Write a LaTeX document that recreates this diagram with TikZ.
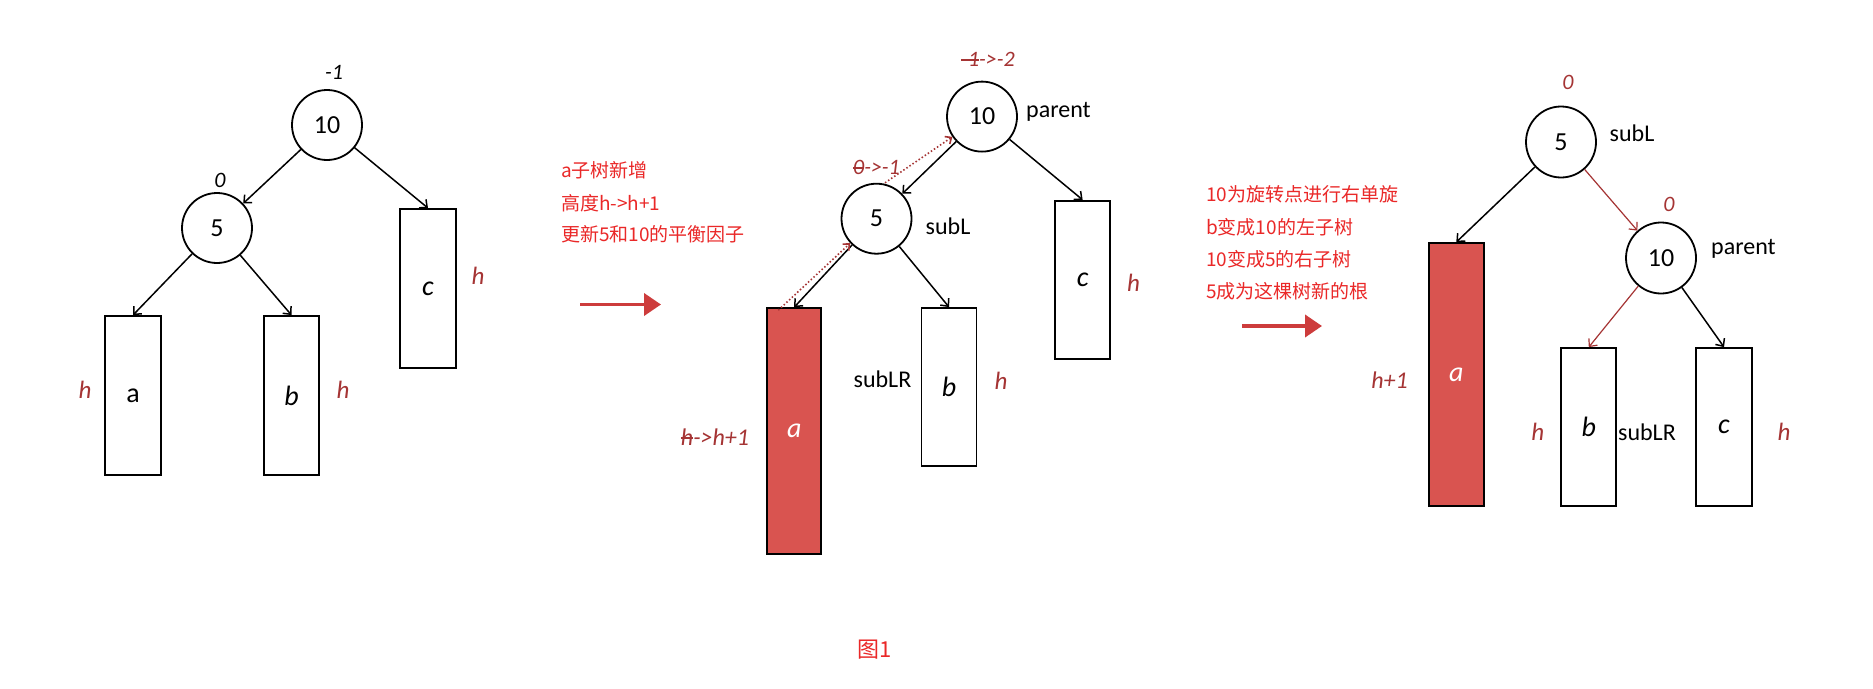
\documentclass[tikz,border=0pt]{standalone}
\usepackage{fontspec}
\setmainfont{Carlito}
\newfontfamily\cjk{Noto Sans CJK SC}
\usetikzlibrary{shapes.geometric,arrows.meta}
\definecolor{lblred}{RGB}{165,52,52}
\definecolor{txtred}{RGB}{234,40,40}
\definecolor{boxred}{RGB}{217,84,80}
\definecolor{arrred}{RGB}{205,60,60}
\newsavebox\strkbox
\newcommand\mystrike[1]{\sbox\strkbox{#1}\rlap{\rule[0.28em]{\wd\strkbox}{0.07em}}\usebox\strkbox}
\begin{document}
\begin{tikzpicture}[x=1pt,y=-1pt,
  tnode/.style={ellipse,draw,line width=1.8pt,inner sep=0pt,minimum width=70pt,minimum height=70pt,font=\fontsize{26}{28}\selectfont},
  subtree/.style={rectangle,draw,line width=1.8pt,inner sep=0pt,font=\fontsize{28}{30}\selectfont\itshape},
  redtree/.style={subtree,fill=boxred,text=white},
  edge/.style={line width=1.5pt,-{Straight Barb[length=6pt,width=11pt]}},
  redge/.style={edge,draw=lblred,line width=1.2pt},
  dotarr/.style={draw=lblred,line width=1.6pt,dash pattern=on 1.5pt off 2.2pt,-{Straight Barb[length=5pt,width=9pt]}},
  hl/.style={text=lblred,font=\fontsize{25}{27}\selectfont\itshape},
  bf/.style={font=\fontsize{22}{24}\selectfont\itshape},
  bfr/.style={bf,text=lblred},
  nm/.style={font=\fontsize{24}{26}\selectfont,anchor=west,inner sep=0pt},
  note/.style={text=txtred,font=\cjk\fontsize{19}{21}\selectfont,anchor=west,inner sep=0pt},
  bigarrow/.style={draw=arrred,line width=3.8pt,-{Triangle[length=17pt,width=22pt]}}]
\fill[white] (0,0) rectangle (1873,688);
\useasboundingbox (0,0) rectangle (1873,688);

% ---------- left panel ----------
\node[tnode] (A10) at (327,125) {10};
\node[tnode] (A5) at (217,228) {5};
\node[bf] (A10bf) at (334,72) {-1};
\node[bf] (A5bf) at (220,180) {0};
\node[subtree,minimum width=56pt,minimum height=159pt,font=\fontsize{28}{30}\selectfont\upshape] (Aa) at (133,395.5) {a};
\node[subtree,minimum width=55pt,minimum height=159pt] (Ab) at (291.5,395.5) {b};
\node[subtree,minimum width=56pt,minimum height=159pt] (Ac) at (428,288.5) {c};
\node[hl] (Aha) at (85,390) {h};
\node[hl] (Ahb) at (343,390) {h};
\node[hl] (Ahc) at (478,276) {h};
\draw[edge] (A10) -- (A5);
\draw[edge] (A10) -- (Ac.north);
\draw[edge] (A5) -- (Aa.north);
\draw[edge] (A5) -- (Ab.north);

% ---------- middle panel ----------
\node[note] (N1) at (561,170) {a子树新增};
\node[note] (N2) at (561,203) {高度h->h+1};
\node[note] (N3) at (561,234.5) {更新5和10的平衡因子};
\coordinate (M0) at (580,304.5);
\coordinate (M1) at (661,304.5);
\draw[bigarrow] (M0) -- (M1);

\node[tnode] (M10) at (982,116.6) {10};
\node[tnode] (M5) at (876.5,218.7) {5};
\node[nm] (Mparent) at (1026,111.4) {parent};
\node[nm] (MsubL) at (925.5,226.4) {subL};
\node[bfr] (M10bf) at (988,59.8) {\mystrike{-1}->-2};
\node[bfr] (M5bf) at (876.5,167.8) {\mystrike{0}->-1};
\node[redtree,minimum width=54pt,minimum height=245.6pt] (Ma) at (794.2,430.9) {a};
\node[subtree,minimum width=55pt,minimum height=158pt] (Mb) at (949,387) {b};
\node[subtree,minimum width=55pt,minimum height=158pt] (Mc) at (1082.6,279.7) {c};
\node[font=\fontsize{24}{26}\selectfont] (MsubLR) at (882.5,379) {subLR};
\node[hl] (Mhb) at (1001,380.8) {h};
\node[hl] (Mhc) at (1133.6,282.5) {h};
\node[hl,font=\fontsize{24}{26}\selectfont\itshape] (Mha) at (715,436.9) {\mystrike{h}->h+1};
\draw[edge] (M10) -- (M5);
\draw[edge] (M10) -- (Mc.north);
\draw[edge] (M5) -- (Ma.north);
\draw[edge] (M5) -- (Mb.north);
\draw[dotarr] ([xshift=12pt,yshift=-3pt]Ma.north west) -- (M5);
\draw[dotarr] ([xshift=8.5pt]M5.north) -- (M10);

% ---------- right panel ----------
\node[note] (R1) at (1206,194) {10为旋转点进行右单旋};
\node[note] (R2) at (1206,227) {b变成10的左子树};
\node[note] (R3) at (1206,259) {10变成5的右子树};
\node[note] (R4) at (1206,291) {5成为这棵树新的根};
\coordinate (RA0) at (1242,326);
\coordinate (RA1) at (1322,326);
\draw[bigarrow] (RA0) -- (RA1);

\node[tnode,minimum height=71pt] (R5) at (1561,142) {5};
\node[tnode,minimum height=71pt] (R10) at (1661,258) {10};
\node[bfr] (R5bf) at (1568,82) {0};
\node[bfr] (R10bf) at (1669,204) {0};
\node[nm] (RsubL) at (1609.5,133) {subL};
\node[nm] (Rparent) at (1711,249) {parent};
\node[redtree,minimum width=55pt,minimum height=263pt] (Ra) at (1456.3,374.5) {a};
\node[subtree,minimum width=55pt,minimum height=158pt] (Rb) at (1588.8,427) {b};
\node[subtree,minimum width=56pt,minimum height=158pt] (Rc) at (1724,427) {c};
\node[hl,font=\fontsize{24}{26}\selectfont\itshape] (Rha) at (1389.5,380) {h+1};
\node[hl] (Rhb) at (1537.7,432) {h};
\node[font=\fontsize{24}{26}\selectfont] (RsubLR) at (1647,432) {subLR};
\node[hl] (Rhc) at (1784,432) {h};
\draw[edge] (R5) -- (Ra.north);
\draw[redge] (R5) -- (R10);
\draw[redge] (R10) -- (Rb.north);
\draw[edge] (R10) -- (Rc.north);

% ---------- caption ----------
\node[text=txtred,font=\cjk\fontsize{22}{24}\selectfont] (cap) at (875,650) {图1};
\end{tikzpicture}
\end{document}
